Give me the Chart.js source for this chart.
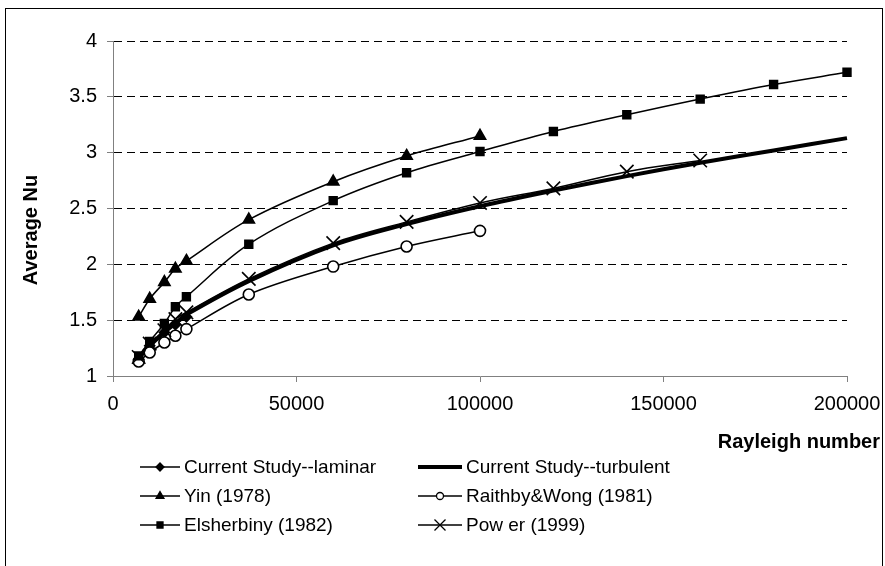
<!DOCTYPE html>
<html>
<head>
<meta charset="utf-8">
<script src="https://cdn.jsdelivr.net/npm/chart.js@4.4.1/dist/chart.umd.min.js"></script>
<style>
  html, body { margin: 0; padding: 0; background: #fff; }
  #wrap { position: relative; width: 885px; height: 566px; }
</style>
</head>
<body>
<div id="wrap"><canvas id="c" width="885" height="566"></canvas></div>
<script>
// Rayleigh numbers at which the correlations are evaluated
const rayleigh = [7000, 10000, 14000, 17000, 20000, 37000, 60000, 80000, 100000, 120000, 140000, 160000, 180000, 200000];

// Average Nusselt number for each study
const nuLaminar    = [1.15, 1.27, 1.39, 1.46, 1.53];
const nuTurbulent  = [1.16, 1.27, 1.39, 1.47, 1.55, 1.85, 2.17, 2.36, 2.52, 2.66, 2.79, 2.91, 3.02, 3.13];
const nuYin        = [1.53, 1.69, 1.84, 1.96, 2.03, 2.40, 2.74, 2.97, 3.15];
const nuRaithby    = [1.13, 1.21, 1.30, 1.36, 1.42, 1.73, 1.98, 2.16, 2.30];
const nuElsherbiny = [1.18, 1.31, 1.47, 1.62, 1.71, 2.18, 2.57, 2.82, 3.01, 3.19, 3.34, 3.48, 3.61, 3.72];
const nuPower      = [1.17, 1.29, 1.41, 1.51, 1.57, 1.87, 2.19, 2.38, 2.55, 2.68, 2.83, 2.93];

const seriesNames = ['Current Study--laminar', 'Current Study--turbulent', 'Yin (1978)',
                     'Raithby&Wong (1981)', 'Elsherbiny (1982)', 'Pow er (1999)'];

const xTicks = [0, 50000, 100000, 150000, 200000];
const yTicks = [1, 1.5, 2, 2.5, 3, 3.5, 4];
const xTitle = 'Rayleigh number';
const yTitle = 'Average Nu';

const FONT = '"Liberation Sans", Arial, Helvetica, sans-serif';

function pairs(ys) {
  return ys.map((y, i) => ({ x: rayleigh[i], y: y }));
}

const styles = [
  { data: nuLaminar,    pointStyle: 'rectRot',  radius: 5,   width: 1.5, fill: '#000' },
  { data: nuTurbulent,  pointStyle: false,      radius: 0,   width: 4,   fill: '#000' },
  { data: nuYin,        pointStyle: 'triangle', radius: 6.5, width: 1.5, fill: '#000' },
  { data: nuRaithby,    pointStyle: 'circle',   radius: 5.5, width: 1.5, fill: '#fff' },
  { data: nuElsherbiny, pointStyle: 'rect',     radius: 5.5, width: 1.5, fill: '#000' },
  { data: nuPower,      pointStyle: 'crossRot', radius: 9.5, width: 1.5, fill: '#000' }
];

const datasets = styles.map((s, i) => ({
  label: seriesNames[i],
  data: pairs(s.data),
  showLine: true,
  borderColor: '#000',
  backgroundColor: s.fill,
  borderWidth: s.width,
  tension: 0.35,
  pointStyle: s.pointStyle || 'circle',
  pointRadius: s.radius,
  pointBorderWidth: 1.6,
  pointBorderColor: '#000',
  pointBackgroundColor: s.fill,
  clip: false,
  order: -i
}));

// Small marker for the legend rows
function legendMarker(ctx, style, cx, cy) {
  ctx.save();
  ctx.strokeStyle = '#000';
  ctx.fillStyle = style.fill;
  ctx.lineWidth = 1.3;
  ctx.beginPath();
  if (style.pointStyle === 'rectRot') {
    const r = 4;
    ctx.moveTo(cx, cy - r); ctx.lineTo(cx + r, cy); ctx.lineTo(cx, cy + r); ctx.lineTo(cx - r, cy);
    ctx.closePath(); ctx.fill(); ctx.stroke();
  } else if (style.pointStyle === 'triangle') {
    const r = 4.5;
    ctx.moveTo(cx, cy - r); ctx.lineTo(cx + r * 0.87, cy + r * 0.5); ctx.lineTo(cx - r * 0.87, cy + r * 0.5);
    ctx.closePath(); ctx.fill(); ctx.stroke();
  } else if (style.pointStyle === 'circle') {
    ctx.arc(cx, cy, 3.5, 0, Math.PI * 2);
    ctx.fill(); ctx.stroke();
  } else if (style.pointStyle === 'rect') {
    ctx.rect(cx - 3, cy - 3, 6, 6);
    ctx.fill(); ctx.stroke();
  } else if (style.pointStyle === 'crossRot') {
    const r = 5.5;
    ctx.moveTo(cx - r, cy - r); ctx.lineTo(cx + r, cy + r);
    ctx.moveTo(cx + r, cy - r); ctx.lineTo(cx - r, cy + r);
    ctx.stroke();
  }
  ctx.restore();
}

const decorations = {
  id: 'decorations',
  beforeDraw(chart) {
    const ctx = chart.ctx;
    ctx.save();
    ctx.fillStyle = '#fff';
    ctx.fillRect(0, 0, chart.width, chart.height);
    ctx.restore();
  },
  afterDraw(chart) {
    const ctx = chart.ctx;
    ctx.save();
    // outer frame
    ctx.strokeStyle = '#000';
    ctx.lineWidth = 1;
    ctx.strokeRect(5.5, 8.5, 877, 700);

    // axis titles
    ctx.fillStyle = '#000';
    ctx.font = 'bold 20px ' + FONT;
    ctx.textAlign = 'right';
    ctx.textBaseline = 'middle';
    ctx.fillText(xTitle, 880, 442);

    ctx.save();
    ctx.translate(31, 230);
    ctx.rotate(-Math.PI / 2);
    ctx.textAlign = 'center';
    ctx.fillText(yTitle, 0, 0);
    ctx.restore();

    // legend: two columns, three rows
    const cols = [140, 418];
    const lineLen = [40, 44];
    const rows = [467, 496, 525];
    ctx.font = '19px ' + FONT;
    ctx.textAlign = 'left';
    ctx.textBaseline = 'middle';
    styles.forEach((s, i) => {
      const c = i % 2, r = Math.floor(i / 2);
      const x0 = cols[c], y = rows[r];
      ctx.strokeStyle = '#000';
      ctx.lineWidth = s.width;
      ctx.beginPath();
      ctx.moveTo(x0, y);
      ctx.lineTo(x0 + lineLen[c], y);
      ctx.stroke();
      legendMarker(ctx, s, x0 + lineLen[c] / 2, y);
      ctx.fillStyle = '#000';
      ctx.fillText(seriesNames[i], x0 + lineLen[c] + 4, y + 1);
    });
    ctx.restore();
  }
};

new Chart(document.getElementById('c'), {
  type: 'scatter',
  data: { datasets: datasets },
  options: {
    responsive: false,
    animation: false,
    devicePixelRatio: 1,
    layout: { padding: { left: 0, top: 41, right: 38, bottom: 130 } },
    plugins: { legend: { display: false }, tooltip: { enabled: false } },
    scales: {
      x: {
        type: 'linear',
        min: xTicks[0],
        max: xTicks[xTicks.length - 1],
        afterBuildTicks(scale) { scale.ticks = xTicks.map(v => ({ value: v })); },
        ticks: {
          callback: v => String(v),
          font: { size: 20, family: FONT },
          color: '#000',
          padding: 10,
          maxRotation: 0,
          autoSkip: false
        },
        grid: { drawOnChartArea: false, drawTicks: true, tickLength: 6, tickColor: '#808080', tickWidth: 1 },
        border: { display: true, color: '#808080', width: 1 },
        afterFit(scale) { scale.height = 60; scale.paddingLeft = 0; scale.paddingRight = 0; }
      },
      y: {
        type: 'linear',
        min: yTicks[0],
        max: yTicks[yTicks.length - 1],
        afterBuildTicks(scale) { scale.ticks = yTicks.map(v => ({ value: v })); },
        ticks: {
          callback: v => String(v),
          font: { size: 20, family: FONT },
          color: '#000',
          padding: 10
        },
        grid: {
          color: c => (c.tick && c.tick.value === yTicks[0]) ? 'rgba(0,0,0,0)' : '#000',
          lineWidth: 1,
          drawTicks: true,
          tickLength: 6,
          tickColor: '#808080',
          tickWidth: 1
        },
        border: { display: true, color: '#808080', width: 1, dash: [8, 5] },
        afterFit(scale) { scale.width = 113; scale.paddingTop = 0; scale.paddingBottom = 0; }
      }
    }
  },
  plugins: [decorations]
});
</script>
</body>
</html>
